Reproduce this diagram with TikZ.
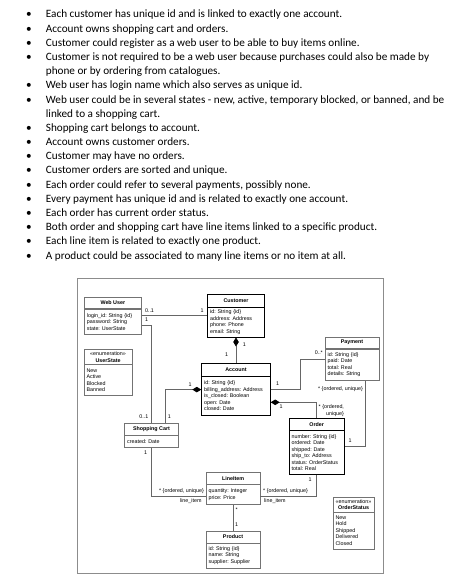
\documentclass[tikz,border=0pt]{standalone}
\usepackage{fontspec}
\setmainfont{Carlito}
\newfontfamily\umlfont{Liberation Sans}
\usetikzlibrary{arrows.meta,positioning,shadows}
\newcommand\umlsize{\umlfont\fontsize{5.35}{6.5}\selectfont\frenchspacing}

\begin{document}
\begin{tikzpicture}
[x=1pt,y=-1pt,%
  itemDecorate/.style={anchor=base west,inner sep=0pt,font=\fontsize{11.2}{14.18}\selectfont},%
  bulletDecorate/.style={anchor=base,inner sep=0pt,font=\fontsize{11.2}{14.18}\selectfont},%
  classHead/.style={anchor=north west,draw=black!55,fill=white,inner sep=0pt,align=center,%
    drop shadow={shadow xshift=0.8pt,shadow yshift=-0.8pt,fill=black!20},font=\umlsize\bfseries},%
  classBody/.style={draw=black!55,fill=white,inner xsep=2.7pt,inner ysep=0pt,align=left,%
    drop shadow={shadow xshift=0.8pt,shadow yshift=-0.8pt,fill=black!20},font=\umlsize},%
  strongBox/.style={draw=black,drop shadow={opacity=0}},%
  multDecorate/.style={inner sep=0pt,font=\umlsize},%
  lineDecorate/.style={draw=black!60,line width=0.7pt},%
  composeDecorate/.style={lineDecorate,{Diamond[length=9pt,width=5.5pt,color=black]}-}]
\useasboundingbox (0,0) rectangle (457,588);
%% requirement list
\foreach \n in {0,1,2,3,5,6,8,9,10,11,12,13,14,15,16,17}
  \node (bullet\n) [bulletDecorate] at (29,{18+14.18*\n}) {•};
\foreach \n/\t in {0/{Each customer has unique id and is linked to exactly one account.},%
  1/{Account owns shopping cart and orders.},%
  2/{Customer could register as a web user to be able to buy items online.},%
  3/{Customer is not required to be a web user because purchases could also be made by},%
  4/{phone or by ordering from catalogues.},%
  5/{Web user has login name which also serves as unique id.},%
  6/{Web user could be in several states - new, active, temporary blocked, or banned, and be},%
  7/{linked to a shopping cart.},%
  8/{Shopping cart belongs to account.},%
  9/{Account owns customer orders.},%
  10/{Customer may have no orders.},%
  11/{Customer orders are sorted and unique.},%
  12/{Each order could refer to several payments, possibly none.},%
  13/{Every payment has unique id and is related to exactly one account.},%
  14/{Each order has current order status.},%
  15/{Both order and shopping cart have line items linked to a specific product.},%
  16/{Each line item is related to exactly one product.},%
  17/{A product could be associated to many line items or no item at all.}}
  \node (item\n) [itemDecorate] at (45.7,{18+14.18*\n}) {\t};
%% diagram frame
\node (frame) [anchor=north west,draw=black!45,minimum width=306,minimum height=295] at (77,278) {};
%% classes
\node (webuser) [classHead,minimum width=57.3,minimum height=11.6] at (84,296.7) {Web User};
\node (webuserA) [classBody,minimum width=57.3,text width=51.9,minimum height=25.7,below=0pt of webuser]
  {login\_id: String \{id\}\\password: String\\state: UserState};
\node (customer) [classHead,strongBox,minimum width=57,minimum height=12.4] at (207.3,294.3) {Customer};
\node (customerA) [classBody,strongBox,minimum width=57,text width=51.6,minimum height=30,below=0pt of customer]
  {id: String \{id\}\\address: Address\\phone: Phone\\email: String};
\node (userstate) [classHead,minimum width=48.3,minimum height=14.7] at (83.7,349.3)
  {{\mdseries «enumeration»}\\UserState};
\node (userstateA) [classBody,minimum width=48.3,text width=42.9,minimum height=30.7,below=0pt of userstate]
  {New\\Active\\Blocked\\Banned};
\node (account) [classHead,strongBox,minimum width=69,minimum height=12.4] at (201.3,363.3) {Account};
\node (accountA) [classBody,strongBox,minimum width=69,text width=63.6,minimum height=38.6,below=0pt of account]
  {id: String \{id\}\\billing\_address: Address\\is\_closed: Boolean\\open: Date\\closed: Date};
\node (payment) [classHead,minimum width=54.3,minimum height=11.6] at (324.7,336.7) {Payment};
\node (paymentA) [classBody,minimum width=54.3,text width=48.9,minimum height=31.7,below=0pt of payment]
  {id: String \{id\}\\paid: Date\\total: Real\\details: String};
\node (cart) [classHead,minimum width=54,minimum height=11.7] at (124.3,423.3) {Shopping Cart};
\node (cartA) [classBody,minimum width=54,text width=48.6,minimum height=12,below=0pt of cart]
  {created: Date};
\node (order) [classHead,strongBox,minimum width=55.6,minimum height=11.7] at (288.7,418.3) {Order};
\node (orderA) [classBody,strongBox,minimum width=55.6,text width=50.2,minimum height=44,below=0pt of order]
  {number: String \{id\}\\ordered: Date\\shipped: Date\\ship\_to: Address\\status: OrderStatus\\total: Real};
\node (lineitem) [classHead,minimum width=54.3,minimum height=11.7] at (205.7,472.3) {LineItem};
\node (lineitemA) [classBody,minimum width=54.3,text width=48.9,minimum height=20,below=0pt of lineitem]
  {quantity: Integer\\price: Price};
\node (product) [classHead,minimum width=54.3,minimum height=12] at (205.7,530.7) {Product};
\node (productA) [classBody,minimum width=54.3,text width=48.9,minimum height=24.6,below=0pt of product]
  {id: String \{id\}\\name: String\\supplier: Supplier};
\node (orderstatus) [classHead,minimum width=41.3,minimum height=15] at (332.7,496.7)
  {{\mdseries «enumeration»}\\OrderStatus};
\node (orderstatusA) [classBody,minimum width=41.3,text width=35.9,minimum height=36.6,below=0pt of orderstatus]
  {New\\Hold\\Shipped\\Delivered\\Closed};
%% edges or lines
\draw [lineDecorate] ([yshift=6pt]webuserA.east) -- ([yshift=6pt]webuserA.east -| customerA.west);
\draw [lineDecorate] ([yshift=-4pt]webuserA.east) -| (cart.north);
\draw [composeDecorate] (customerA.south) -- (account.north);
\draw [composeDecorate] ([yshift=6pt]accountA.west) -| ([xshift=13.7pt]cart.north);
\draw [lineDecorate] ([yshift=6pt]accountA.east) -- ++(29.7,0) |- ([yshift=5.5pt]paymentA.west);
\draw [composeDecorate] ([yshift=-6.7pt]accountA.east) -| (order.north);
\draw [lineDecorate] ([xshift=13pt]paymentA.south) |- ([yshift=6pt]orderA.east);
\draw [lineDecorate] (orderA.south) |- ([yshift=-1.7pt]lineitemA.east);
\draw [lineDecorate] (cartA.south) |- ([yshift=-1.7pt]lineitemA.west);
\draw [lineDecorate] (lineitemA.south) -- (product.north);
%% multiplicities
\node (mWebCust) [multDecorate] at (149.5,311) {0..1};
\node (mCustWeb) [multDecorate] at (202,311) {1};
\node (mWebCart) [multDecorate] at (146.7,320) {1};
\node (mCustAcc) [multDecorate] at (244.3,344.3) {1};
\node (mAccCust) [multDecorate] at (226.7,355) {1};
\node (mAccCart) [multDecorate] at (190,384.3) {1};
\node (mCartAcc) [multDecorate] at (169.3,416.7) {1};
\node (mCartWeb) [multDecorate] at (143.8,416.7) {0..1};
\node (mAccPay) [multDecorate] at (277.7,383.7) {1};
\node (mPayAcc) [multDecorate] at (318.8,352.3) {0..*};
\node (mAccOrd) [multDecorate] at (281,407) {1};
\node (mOrdAcc) [multDecorate,anchor=north west,align=right] at (318.5,404.5) {* \{ordered,\\unique\}};
\node (mOrdPay) [multDecorate,anchor=east] at (363,389.5) {* \{ordered, unique\}};
\node (mPayOrd) [multDecorate] at (350,441) {1};
\node (mOrdItem) [multDecorate] at (310,480) {1};
\node (mItemOrd) [multDecorate,anchor=west] at (263,490.7) {* \{ordered, unique\}};
\node (rItemOrd) [multDecorate,anchor=west] at (264,501) {line\_item};
\node (mCartItem) [multDecorate] at (145.7,452.7) {1};
\node (mItemCart) [multDecorate,anchor=east] at (204,490.7) {* \{ordered, unique\}};
\node (rItemCart) [multDecorate,anchor=east] at (201.7,501) {line\_item};
\node (mItemProd) [multDecorate] at (236.7,509.3) {*};
\node (mProdItem) [multDecorate] at (236.7,525) {1};
\end{tikzpicture}
\end{document}
